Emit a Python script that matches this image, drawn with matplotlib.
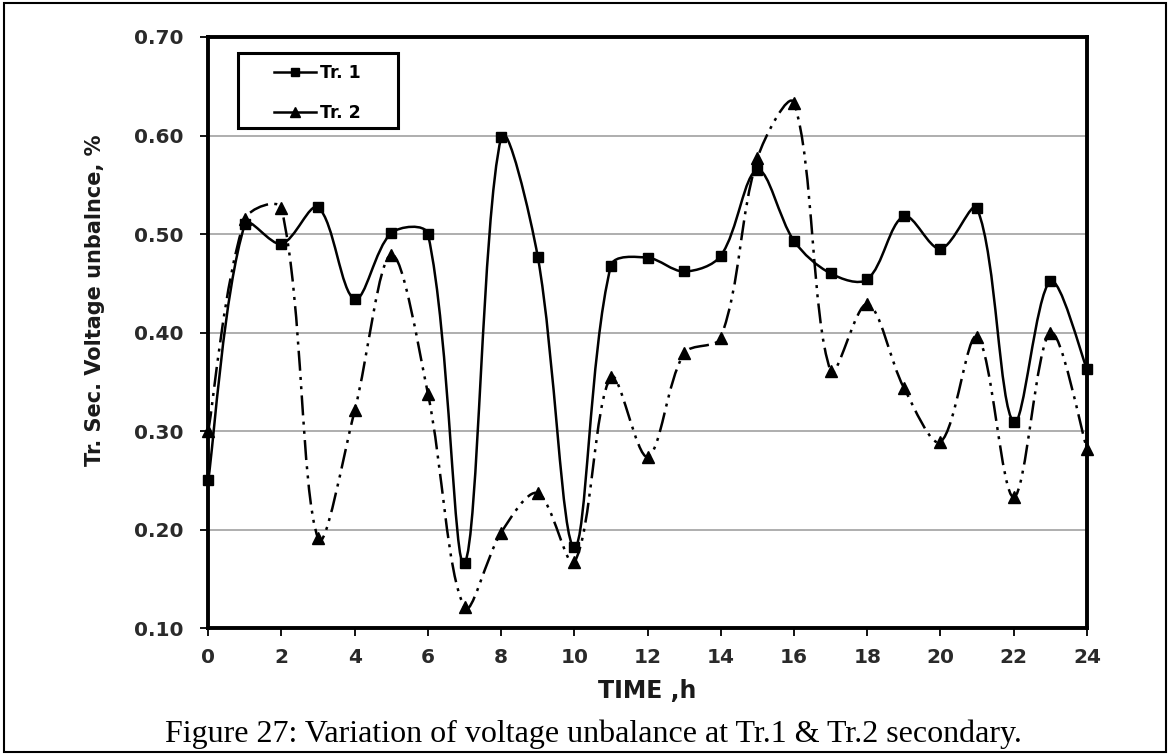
import numpy as np
import matplotlib
matplotlib.use("Agg")
import matplotlib.pyplot as plt
from matplotlib.path import Path
from matplotlib.patches import PathPatch, Rectangle
from matplotlib.lines import Line2D

hours = list(range(25))
tr1 = [0.25, 0.51, 0.49, 0.527, 0.434, 0.501, 0.50, 0.166, 0.598, 0.477, 0.182,
       0.468, 0.476, 0.462, 0.478, 0.565, 0.493, 0.460, 0.454, 0.518, 0.485,
       0.526, 0.309, 0.452, 0.363]
tr2 = [0.30, 0.515, 0.526, 0.191, 0.321, 0.479, 0.338, 0.121, 0.197, 0.237, 0.167,
       0.355, 0.274, 0.379, 0.395, 0.577, 0.633, 0.361, 0.429, 0.344, 0.289,
       0.396, 0.233, 0.40, 0.282]
yticks = [0.10, 0.20, 0.30, 0.40, 0.50, 0.60, 0.70]
xticks = list(range(0, 25, 2))


def smooth_path(ax, x, y):
    # Excel-like smoothed line: Bezier segments built in screen space,
    # control arms scaled by the neighbouring segment lengths
    p = ax.transData.transform(np.column_stack([x, y]))
    n = len(p)
    d = np.hypot(*np.diff(p, axis=0).T)
    out_c, in_c = [], []
    for i in range(n):
        if i == 0:
            out_c.append(p[0] + (p[1] - p[0]) / 6)
            in_c.append(p[0])
        elif i == n - 1:
            in_c.append(p[i] - (p[i] - p[i - 1]) / 6)
            out_c.append(p[i])
        else:
            t = p[i + 1] - p[i - 1]
            s = d[i - 1] + d[i]
            out_c.append(p[i] + t * d[i] / s / 3)
            in_c.append(p[i] - t * d[i - 1] / s / 3)
    verts = [p[0]]
    codes = [Path.MOVETO]
    for i in range(n - 1):
        verts += [out_c[i], in_c[i + 1], p[i + 1]]
        codes += [Path.CURVE4] * 3
    verts = ax.transData.inverted().transform(np.array(verts))
    return Path(verts, codes)


dashdotdot = (0, (8, 2.5, 1.2, 2.5, 1.2, 2.5))
tick_font = {"family": "DejaVu Sans", "weight": "bold"}

fig = plt.figure(figsize=(11.7, 7.55), dpi=100)
ax = fig.add_axes([0.178, 0.168, 0.751, 0.783])
ax.set_xlim(0, 24)
ax.set_ylim(0.10, 0.70)

ax.add_patch(PathPatch(smooth_path(ax, hours, tr1), fill=False, color="black", lw=1.8))
ax.add_patch(PathPatch(smooth_path(ax, hours, tr2), fill=False, color="black", lw=1.8,
                       linestyle=dashdotdot))
ax.plot(hours, tr1, "s", color="black", ms=7, zorder=3, clip_on=False)
ax.plot(hours, tr2, "^", color="black", ms=8, zorder=3, clip_on=False)

ax.set_xticks(xticks)
ax.set_yticks(yticks)
ax.set_yticklabels([f"{v:.2f}" for v in yticks])
ax.yaxis.grid(True, color="#a8a8a8", lw=1.3)
ax.set_axisbelow(True)
for s in ax.spines.values():
    s.set_linewidth(2.8)
ax.tick_params(direction="out", length=6, width=1.3, labelsize=14.5)
ax.tick_params(axis="x", pad=8)
ax.tick_params(axis="y", pad=12)
for lab in ax.get_xticklabels() + ax.get_yticklabels():
    lab.set_fontfamily(tick_font["family"])
    lab.set_fontweight(tick_font["weight"])
    lab.set_color("#2a2a2a")

ax.set_xlabel("TIME ,h", fontsize=17, color="#1a1a1a", labelpad=9, **tick_font)
ax.set_ylabel("Tr. Sec. Voltage unbalnce, %", fontsize=15, color="#1a1a1a", **tick_font)
ax.yaxis.set_label_coords(-0.117, 0.555)

# legend box
ax.add_patch(Rectangle((0.0341, 0.846), 0.182, 0.127, transform=ax.transAxes,
                       fill=True, facecolor="white", edgecolor="black", lw=2.2, zorder=5))
handles = [Line2D([], [], color="black", marker="s", ms=6, lw=1.8),
           Line2D([], [], color="black", marker="^", ms=7, lw=1.8)]
leg = ax.legend(handles, ["Tr. 1", "Tr. 2"], loc="center",
                bbox_to_anchor=(0.124, 0.905), frameon=False, handlelength=2.4,
                labelspacing=1.25, handletextpad=0.25, borderpad=0,
                prop={"family": "DejaVu Sans", "weight": "bold", "size": 12.5})
leg.set_zorder(6)

fig.text(0.507, 0.017, "Figure 27: Variation of voltage unbalance at Tr.1 & Tr.2 secondary.",
         ha="center", va="baseline", fontfamily="Liberation Serif", fontsize=23)
fig.add_artist(Rectangle((0.003, 0.004), 0.994, 0.992, transform=fig.transFigure,
                         fill=False, edgecolor="black", lw=1.5))

fig.savefig("out.png", dpi=100)
